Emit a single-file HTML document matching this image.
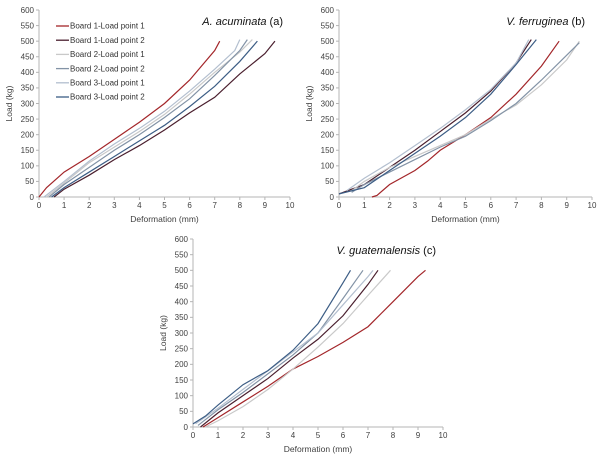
<!DOCTYPE html>
<html><head><meta charset="utf-8"><style>
body{margin:0;background:#fff;}
svg{display:block;font-family:"Liberation Sans",sans-serif;}
</style></head><body>
<svg id="s" width="604" height="465"></svg>
<script>
const xTicks=[0,1,2,3,4,5,6,7,8,9,10];
const yTicks=[0,50,100,150,200,250,300,350,400,450,500,550,600];
const seriesNames=["Board 1-Load point 1","Board 1-Load point 2","Board 2-Load point 1","Board 2-Load point 2","Board 3-Load point 1","Board 3-Load point 2"];
const seriesColors=["#a3262a","#4a1f2e","#c9c9c9","#8393a6","#b3bfcf","#3c5d85"];
// chart a
const aB1L1=[[0,0],[0.3,30],[1,80],[2,130],[3,185],[4,240],[5,300],[6,375],[7,470],[7.2,500]];
const aB1L2=[[0.6,0],[1,25],[2,70],[3,120],[4,165],[5,215],[6,270],[7,320],[8,395],[9,460],[9.4,500]];
const aB2L1=[[0.3,0],[1,45],[2,110],[3,160],[4,210],[5,265],[6,330],[7,400],[8,465],[8.5,505]];
const aB2L2=[[0.4,0],[1,40],[2,95],[3,150],[4,200],[5,255],[6,315],[7,390],[8,470],[8.3,505]];
const aB3L1=[[0.2,0],[1,50],[2,115],[3,170],[4,220],[5,275],[6,340],[7,410],[7.8,470],[8,505]];
const aB3L2=[[0.5,0],[1,30],[2,80],[3,130],[4,180],[5,230],[6,290],[7,355],[8,435],[8.7,500]];
// chart b
const bB1L1=[[1.3,0],[1.5,5],[2,40],[3,85],[3.5,115],[4,150],[5,200],[6,255],[7,330],[8,420],[8.7,500]];
const bB1L2=[[0,10],[0.5,25],[1,40],[2,95],[3,150],[4,210],[5,270],[6,340],[7,430],[7.6,505]];
const bB2L1=[[0.5,20],[1,50],[2,95],[3,130],[4,165],[5,200],[6,250],[7,295],[8,360],[9,440],[9.5,500]];
const bB2L2=[[0.5,15],[1,40],[2,80],[3,120],[4,160],[5,195],[6,245],[7,300],[8,375],[9,455],[9.5,495]];
const bB3L1=[[0.3,20],[1,60],[2,110],[3,165],[4,220],[5,280],[6,345],[7,430],[7.5,505]];
const bB3L2=[[0,10],[1,30],[2,85],[3,140],[4,195],[5,255],[6,330],[7,425],[7.8,505]];
// chart c
const cB1L1=[[0.4,0],[1,30],[2,80],[3,130],[4,185],[5,225],[6,270],[7,320],[8,400],[9,480],[9.3,500]];
const cB1L2=[[0.3,0],[1,45],[2,100],[3,155],[4,220],[5,280],[6,355],[7,455],[7.4,500]];
const cB2L1=[[0.5,0],[1,20],[2,65],[3,120],[4,185],[5,255],[6,330],[7,420],[7.9,500]];
const cB2L2=[[0.2,5],[1,55],[2,110],[3,170],[4,230],[5,300],[6,410],[6.8,500]];
const cB3L1=[[0.1,10],[1,60],[2,120],[3,180],[4,240],[5,300],[6,390],[7,480],[7.2,500]];
const cB3L2=[[0,10],[0.5,35],[1,70],[2,135],[3,180],[4,245],[5,330],[6,460],[6.3,500]];

const NS="http://www.w3.org/2000/svg";
const svg=document.getElementById('s');
function mk(t,a,p){const e=document.createElementNS(NS,t);for(const k in a)e.setAttribute(k,a[k]);(p||svg).appendChild(e);return e;}

function chart(id,L,R,T,B,italic,letter,data,legend){
  const g=mk('g',{});
  
  
  const sx=v=>L+(R-L)*v/10, sy=v=>B-(B-T)*v/600;
  const ax=mk('line',{x1:L,y1:B,x2:R,y2:B,stroke:'#b5b5b5','stroke-width':1},g);
  
  
  const ay=mk('line',{x1:L,y1:T,x2:L,y2:B,stroke:'#b5b5b5','stroke-width':1},g);
  
  
  xTicks.forEach(v=>{
    mk('line',{x1:sx(v),y1:B,x2:sx(v),y2:B+3,stroke:'#b5b5b5'},g);
    const t=mk('text',{x:sx(v),y:B+11,'font-size':8,'text-anchor':'middle',fill:'#404040'},g);
    t.textContent=v;
    
    
  });
  yTicks.forEach(v=>{
    mk('line',{x1:L-3,y1:sy(v),x2:L,y2:sy(v),stroke:'#b5b5b5'},g);
    const t=mk('text',{x:L-5,y:sy(v)+2.8,'font-size':8,'text-anchor':'end',fill:'#404040'},g);
    t.textContent=v;
    
    
  });
  const xt=mk('text',{x:(L+R)/2,y:B+25,'font-size':8.5,'text-anchor':'middle',fill:'#404040'},g);
  xt.textContent='Deformation (mm)';
  
  
  const yt=mk('text',{x:0,y:0,'font-size':8.5,'text-anchor':'middle',fill:'#404040',transform:`translate(${L-27},${(T+B)/2}) rotate(-90)`},g);
  yt.textContent='Load (kg)';
  
  
  data.forEach((d,i)=>{
    const p=mk('polyline',{points:d.map(q=>sx(q[0])+','+sy(q[1])).join(' '),fill:'none',stroke:seriesColors[i],'stroke-width':1.2},g);
    
    
  });
  const tt=mk('text',{x:R-7,y:T+15,'font-size':11,'text-anchor':'end',fill:'#111'},g);
  
  
  const i1=mk('tspan',{'font-style':'italic'},tt);i1.textContent=italic;
  const i2=mk('tspan',{},tt);i2.textContent=' '+letter;
  if(legend){
    seriesNames.forEach((n,i)=>{
      const y=T+16+i*14.2;
      const ln=mk('line',{x1:L+17,y1:y,x2:L+30,y2:y,stroke:seriesColors[i],'stroke-width':1.3},g);
      
      
      const t=mk('text',{x:L+31,y:y+2.7,'font-size':8,fill:'#333'},g);
      t.textContent=n;
      
      
    });
  }
}
chart('chart-a',39,290,10,197,'A. acuminata','(a)',[aB1L1,aB1L2,aB2L1,aB2L2,aB3L1,aB3L2],true);
chart('chart-b',339,592,10,197,'V. ferruginea','(b)',[bB1L1,bB1L2,bB2L1,bB2L2,bB3L1,bB3L2],false);
chart('chart-c',193,443,239,427,'V. guatemalensis','(c)',[cB1L1,cB1L2,cB2L1,cB2L2,cB3L1,cB3L2],false);
</script>
</body></html>
